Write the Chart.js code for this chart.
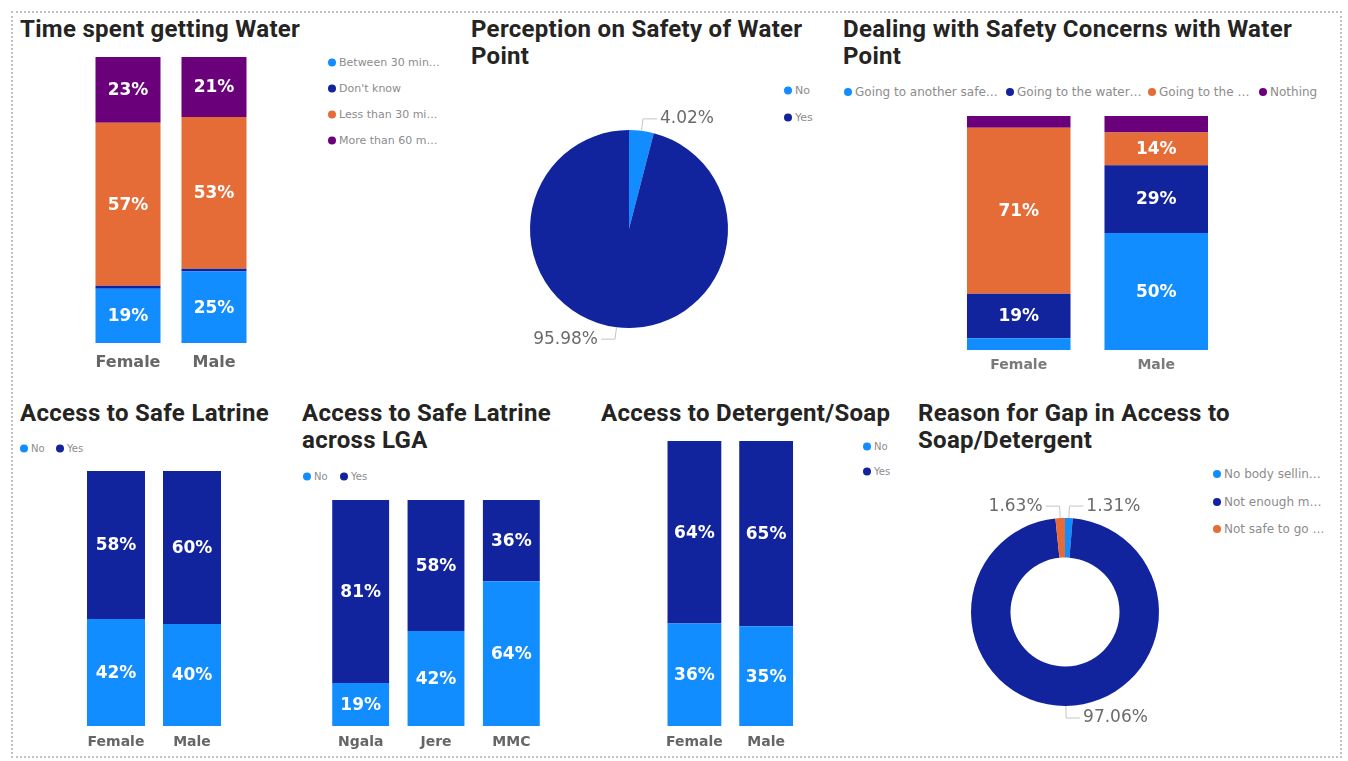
<!DOCTYPE html>
<html>
<head>
<meta charset="utf-8">
<title>WASH dashboard</title>
<script src="https://cdn.jsdelivr.net/npm/chart.js@4.4.0/dist/chart.umd.min.js"></script>
<style>
  body { margin: 0; background: #fff; width: 1348px; height: 761px; position: relative; overflow: hidden; font-family: "DejaVu Sans", sans-serif; }
  .frame { position: absolute; left: 11px; top: 11px; width: 1331px; height: 747px; border: 2px dotted #c2c2c2; box-sizing: border-box; }
  .title { position: absolute; font-family: Roboto, sans-serif; font-weight: 700; font-size: 24px; letter-spacing: 0.3px; line-height: 27px; color: #252423; white-space: nowrap; }
  .item { position: absolute; display: flex; align-items: center; white-space: nowrap; color: #8c8c8c; transform: translateY(-50%); }
  .dot { width: 8px; height: 8px; border-radius: 50%; margin-right: 3px; flex: none; }
  canvas { position: absolute; }
</style>
</head>
<body>
<div class="frame"></div>

<div class="title" style="left:20px;top:16px">Time spent getting Water</div>
<div class="title" style="left:471px;top:16px">Perception on Safety of Water<br>Point</div>
<div class="title" style="left:843px;top:16px">Dealing with Safety Concerns with Water<br>Point</div>
<div class="title" style="left:20px;top:400px">Access to Safe Latrine</div>
<div class="title" style="left:302px;top:400px">Access to Safe Latrine<br>across LGA</div>
<div class="title" style="left:601px;top:400px">Access to Detergent/Soap</div>
<div class="title" style="left:918px;top:400px">Reason for Gap in Access to<br>Soap/Detergent</div>

<canvas id="timeChart"></canvas>
<canvas id="safetyPie"></canvas>
<canvas id="concernChart"></canvas>
<canvas id="latrineChart"></canvas>
<canvas id="lgaChart"></canvas>
<canvas id="soapChart"></canvas>
<canvas id="gapChart"></canvas>

<script>
const BLUE = '#118DFF', NAVY = '#12239E', ORANGE = '#E66C37', PURPLE = '#6B007B';

// ---- data ----
const genderCats = ['Female', 'Male'];
const lgaCats = ['Ngala', 'Jere', 'MMC'];
const noYes = ['No', 'Yes'];

const timeNames = ['Between 30 min…', "Don't know", 'Less than 30 mi…', 'More than 60 m…'];
const timeBetween = [19, 25];
const timeDontKnow = [1, 1];
const timeUnder30 = [57, 53];
const timeOver60 = [23, 21];

const safetyValues = [4.02, 95.98];

const concernNames = ['Going to another safe…', 'Going to the water…', 'Going to the …', 'Nothing'];
const concernOther = [5, 50];
const concernWater = [19, 29];
const concernThe = [71, 14];
const concernNothing = [5, 7];

const latrineNo = [42, 40];
const latrineYes = [58, 60];

const lgaNo = [19, 42, 64];
const lgaYes = [81, 58, 36];

const soapNo = [36, 35];
const soapYes = [64, 65];

const gapNames = ['No body sellin…', 'Not enough m…', 'Not safe to go …'];
const gapValues = [1.31, 97.06, 1.63];

// ---- plugins ----
// white percentage inside each stacked segment that is tall enough
const barLabels = {
  id: 'barLabels',
  afterDatasetsDraw(chart) {
    const ctx = chart.ctx;
    ctx.save();
    ctx.font = 'bold 17px "DejaVu Sans"';
    ctx.fillStyle = '#fff';
    ctx.textAlign = 'center';
    ctx.textBaseline = 'middle';
    chart.data.datasets.forEach((ds, i) => {
      chart.getDatasetMeta(i).data.forEach((bar, j) => {
        const v = ds.data[j];
        if (v < 10) return;
        ctx.fillText(v + '%', bar.x, (bar.y + bar.base) / 2 + 1);
      });
    });
    ctx.restore();
  }
};

// outside labels with elbow leader lines for pie/donut slices
const arcLabels = {
  id: 'arcLabels',
  afterDatasetsDraw(chart) {
    const ctx = chart.ctx;
    const vals = chart.data.datasets[0].data;
    ctx.save();
    ctx.font = '17px "DejaVu Sans"';
    ctx.strokeStyle = '#c4c4c4';
    ctx.lineWidth = 1;
    ctx.fillStyle = '#6b6b6b';
    ctx.textBaseline = 'middle';
    chart.getDatasetMeta(0).data.forEach((arc, i) => {
      const mid = (arc.startAngle + arc.endAngle) / 2;
      const r = arc.outerRadius;
      const x0 = arc.x + Math.cos(mid) * r, y0 = arc.y + Math.sin(mid) * r;
      const x1 = arc.x + Math.cos(mid) * (r + 12), y1 = arc.y + Math.sin(mid) * (r + 12);
      const dir = Math.cos(mid) >= 0 ? 1 : -1;
      const x2 = x1 + dir * 14;
      ctx.beginPath();
      ctx.moveTo(x0, y0);
      ctx.lineTo(x1, y1);
      ctx.lineTo(x2, y1);
      ctx.stroke();
      ctx.textAlign = dir > 0 ? 'left' : 'right';
      ctx.fillText(vals[i].toFixed(2) + '%', x2 + dir * 3, y1);
    });
    ctx.restore();
  }
};

function legend(names, colors, spots, size) {
  names.forEach((n, i) => {
    const el = document.createElement('div');
    el.className = 'item';
    el.style.left = (spots[i][0] - 4) + 'px';
    el.style.top = spots[i][1] + 'px';
    el.style.fontSize = size + 'px';
    el.innerHTML = '<span class="dot" style="background:' + colors[i] + '"></span>';
    el.appendChild(document.createTextNode(n));
    document.body.appendChild(el);
  });
}

function stackedBar(id, cats, names, series, colors, b) {
  const canvas = document.getElementById(id);
  // height taken by the category axis: one text line plus padding on both sides
  const axisH = b.font * 1.2 + 2 * b.pad;
  canvas.width = b.width;
  canvas.height = b.plotH + 45;
  canvas.style.left = b.left + 'px';
  canvas.style.top = b.top + 'px';
  new Chart(canvas, {
    type: 'bar',
    data: {
      labels: cats,
      datasets: names.map((n, i) => ({
        label: n, data: series[i], backgroundColor: colors[i], borderWidth: 0,
        categoryPercentage: 1, barPercentage: b.bar
      }))
    },
    options: {
      responsive: false,
      animation: false,
      layout: { padding: { top: 0, left: 0, right: 0, bottom: 45 - axisH } },
      plugins: { legend: { display: false }, tooltip: { enabled: false } },
      scales: {
        x: {
          stacked: true,
          grid: { display: false, drawTicks: false },
          border: { display: false },
          ticks: { color: b.color, padding: b.pad, font: { family: 'DejaVu Sans', size: b.font, weight: 'bold' } }
        },
        y: { stacked: true, display: false, min: 0, max: 100 }
      }
    },
    plugins: [barLabels]
  });
}

function arcChart(id, names, values, colors, b) {
  const canvas = document.getElementById(id);
  canvas.width = b.w;
  canvas.height = b.h;
  canvas.style.left = b.left + 'px';
  canvas.style.top = b.top + 'px';
  const padL = b.cx - b.r - b.left, padT = b.cy - b.r - b.top;
  new Chart(canvas, {
    type: 'doughnut',
    data: { labels: names, datasets: [{ data: values, backgroundColor: colors, borderWidth: 0 }] },
    options: {
      responsive: false,
      animation: false,
      cutout: b.cutout,
      layout: { padding: { left: padL, top: padT, right: b.w - padL - 2 * b.r, bottom: b.h - padT - 2 * b.r } },
      plugins: { legend: { display: false }, tooltip: { enabled: false } }
    },
    plugins: [arcLabels]
  });
}

// ---- charts ----
stackedBar('timeChart', genderCats, timeNames,
  [timeBetween, timeDontKnow, timeUnder30, timeOver60], [BLUE, NAVY, ORANGE, PURPLE],
  { left: 85, top: 57, width: 172, plotH: 286, font: 16, pad: 10, bar: 0.756, color: '#666' });
legend(timeNames, [BLUE, NAVY, ORANGE, PURPLE], [[332, 62], [332, 88], [332, 114], [332, 140]], 11);

arcChart('safetyPie', noYes, safetyValues, [BLUE, NAVY],
  { left: 500, top: 100, w: 260, h: 260, cx: 629, cy: 229, r: 99, cutout: 0 });
legend(noYes, [BLUE, NAVY], [[788, 90], [788, 117]], 11);

stackedBar('concernChart', genderCats, concernNames,
  [concernOther, concernWater, concernThe, concernNothing], [BLUE, NAVY, ORANGE, PURPLE],
  { left: 950, top: 116, width: 275, plotH: 234, font: 14, pad: 7, bar: 0.753, color: '#7a7a7a' });
legend(concernNames, [BLUE, NAVY, ORANGE, PURPLE], [[848, 92], [1010, 92], [1152, 92], [1263, 92]], 12);

stackedBar('latrineChart', genderCats, noYes, [latrineNo, latrineYes], [BLUE, NAVY],
  { left: 78, top: 471, width: 152, plotH: 255, font: 14, pad: 8, bar: 0.763, color: '#666' });
legend(noYes, [BLUE, NAVY], [[24, 448], [60, 448]], 10);

stackedBar('lgaChart', lgaCats, noYes, [lgaNo, lgaYes], [BLUE, NAVY],
  { left: 323, top: 500, width: 226, plotH: 226, font: 14, pad: 8, bar: 0.755, color: '#666' });
legend(noYes, [BLUE, NAVY], [[307, 476], [344, 476]], 10);

stackedBar('soapChart', genderCats, noYes, [soapNo, soapYes], [BLUE, NAVY],
  { left: 658, top: 441, width: 144, plotH: 285, font: 14, pad: 8, bar: 0.75, color: '#666' });
legend(noYes, [BLUE, NAVY], [[867, 446], [867, 471]], 10);

arcChart('gapChart', gapNames, gapValues, [BLUE, NAVY, ORANGE],
  { left: 960, top: 490, w: 220, h: 240, cx: 1065, cy: 612, r: 94, cutout: '58%' });
legend(gapNames, [BLUE, NAVY, ORANGE], [[1217, 474], [1217, 502], [1217, 529]], 12);
</script>
</body>
</html>
